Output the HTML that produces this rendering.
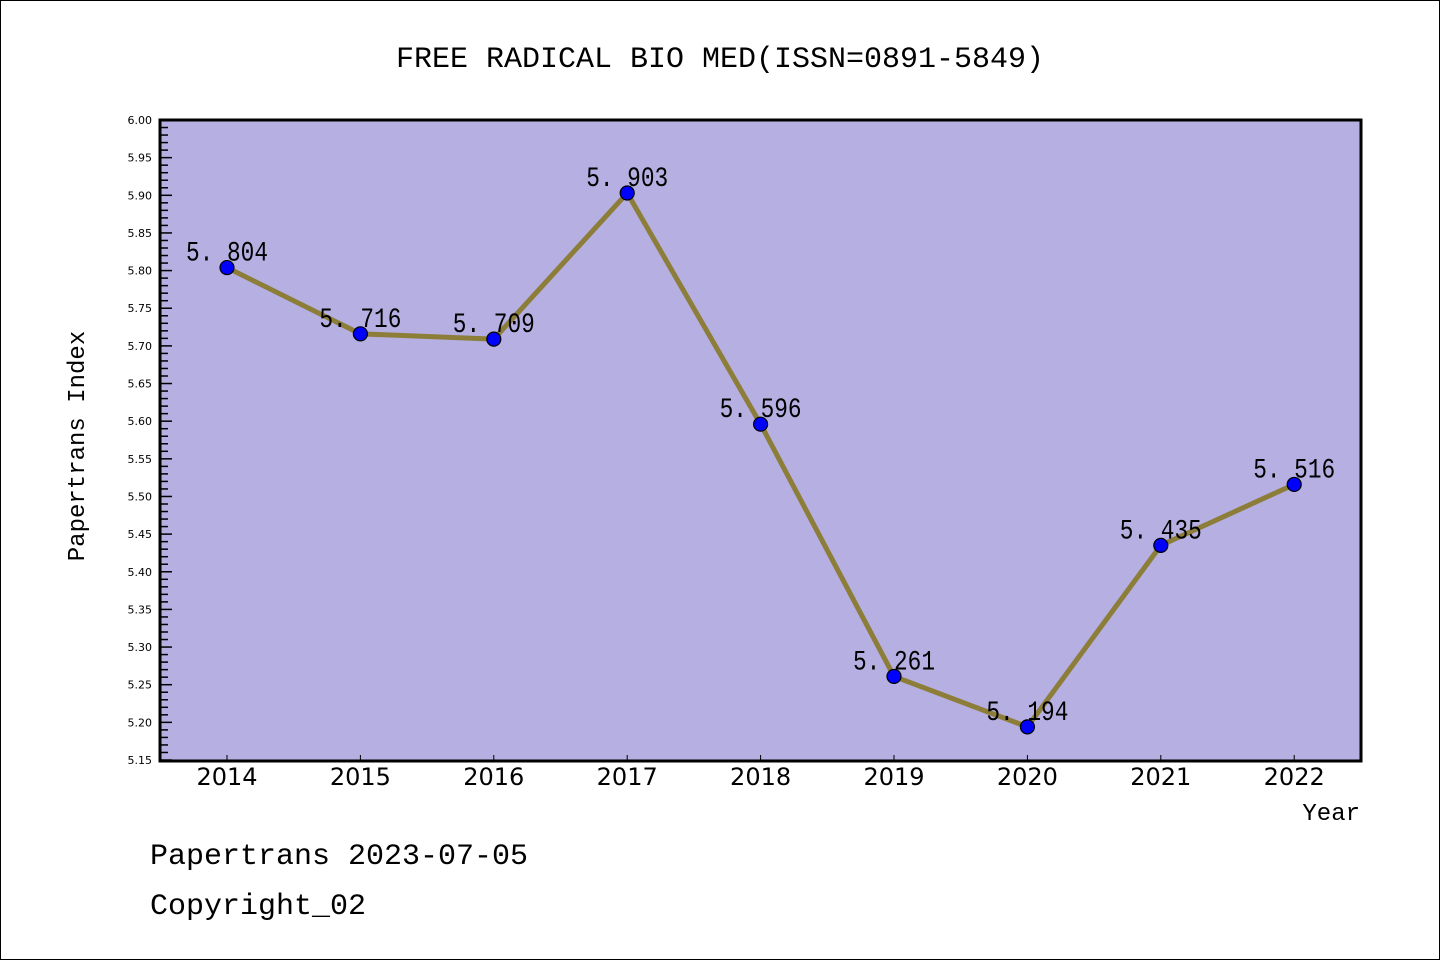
<!DOCTYPE html>
<html><head><meta charset="utf-8"><style>
html,body{margin:0;padding:0;background:#fff;}
svg{display:block;}
.mono{font-family:"WenQuanYi Zen Hei Mono","Liberation Mono","Noto Sans CJK SC",monospace;}
</style></head><body>
<svg id="chart" width="1440" height="960" xmlns="http://www.w3.org/2000/svg">
<rect x="0.5" y="0.5" width="1439" height="959" fill="#fff" stroke="#000"/>
<text x="720" y="67" text-anchor="middle" font-size="30" class="mono">FREE RADICAL BIO MED(ISSN=0891-5849)</text>
<rect x="160" y="120" width="1201" height="641" fill="#b5afe2"/>
<g id="yaxis"></g>
<g id="xaxis"></g>
<g id="series"></g>
<rect x="160" y="120" width="1201" height="641" fill="none" stroke="#000" stroke-width="3"/>
<text transform="translate(84,446) rotate(-90)" text-anchor="middle" font-size="24" class="mono">Papertrans Index</text>
<text x="1360" y="820" text-anchor="end" font-size="24" class="mono">Year</text>
<text x="150" y="864" font-size="30" class="mono">Papertrans 2023-07-05</text>
<text x="150" y="914" font-size="30" class="mono">Copyright_02</text>
</svg>
<script>
const years=["2014","2015","2016","2017","2018","2019","2020","2021","2022"];
const values=[5.804,5.716,5.709,5.903,5.596,5.261,5.194,5.435,5.516];
const labels=["5. 804","5. 716","5. 709","5. 903","5. 596","5. 261","5. 194","5. 435","5. 516"];
const yTicks=["5.15","5.20","5.25","5.30","5.35","5.40","5.45","5.50","5.55","5.60","5.65","5.70","5.75","5.80","5.85","5.90","5.95","6.00"];
const NS="http://www.w3.org/2000/svg";
const yMin=5.15,yMax=6.00,plotTop=120,plotBot=760;
function yS(v){return plotBot-(v-yMin)/(yMax-yMin)*(plotBot-plotTop);}
function xS(i){return 227+i*133.4;}
function mk(tag,a,p){const e=document.createElementNS(NS,tag);for(const k in a)e.setAttribute(k,a[k]);p.appendChild(e);return e;}
const ya=document.getElementById('yaxis');
for(let k=0;k<=85;k++){const v=yMin+k*0.01;const y=yS(v);const major=k%5===0;
 const t=mk('line',{x1:160,x2:major?172:168,y1:y,y2:y,stroke:'#000','stroke-width':1.5},ya);
 }
yTicks.forEach(s=>{const y=yS(parseFloat(s));const t=mk('text',{x:152,y:y+4,'text-anchor':'end','font-size':11,'font-family':'DejaVu Sans, sans-serif'},ya);t.textContent=s;
 });
const xa=document.getElementById('xaxis');
years.forEach((yr,i)=>{const x=xS(i);
 const l=mk('line',{x1:x,x2:x,y1:760,y2:755,stroke:'#000','stroke-width':1},xa);
 
 const t=mk('text',{x:x,y:785,'text-anchor':'middle','font-size':24,'font-family':'DejaVu Sans, sans-serif'},xa);t.textContent=yr;
 });
const sg=document.getElementById('series');
const pl=mk('polyline',{points:values.map((v,i)=>xS(i)+','+yS(v)).join(' '),fill:'none',stroke:'#8c7d38','stroke-width':5,'stroke-linejoin':'round'},sg);

values.forEach((v,i)=>{const c=mk('circle',{cx:xS(i),cy:yS(v),r:7,fill:'#0000ff',stroke:'#000','stroke-width':1.2},sg);
 
 const t=mk('text',{x:xS(i),y:yS(v)-7,'text-anchor':'middle','font-size':28,'class':'mono',textLength:82,lengthAdjust:'spacingAndGlyphs'},sg);t.textContent=labels[i];
 });
</script>
</body></html>
